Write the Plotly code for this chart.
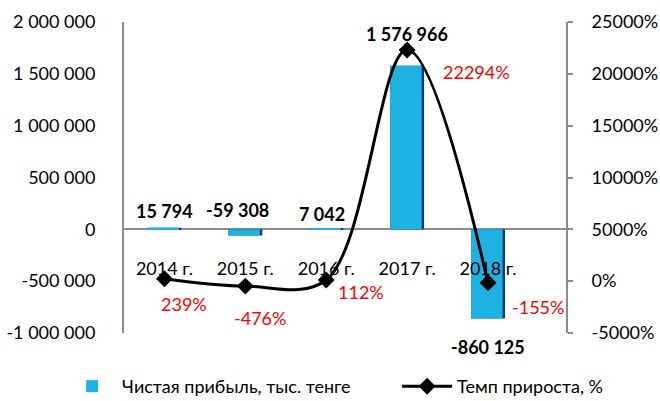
import plotly.graph_objects as go

years = ["2014 г.", "2015 г.", "2016 г.", "2017 г.", "2018 г."]
profit = [15794, -59308, 7042, 1576966, -860125]
growth = [239, -476, 112, 22294, -155]
profit_labels = ["15 794", "-59 308", "7 042", "1 576 966", "-860 125"]
growth_labels = ["239%", "-476%", "112%", "22294%", "-155%"]
y_ticks = [-1000000, -500000, 0, 500000, 1000000, 1500000, 2000000]
y_ticktext = ["-1 000 000", "-500 000", "0", "500 000", "1 000 000", "1 500 000", "2 000 000"]
y2_ticks = [-5000, 0, 5000, 10000, 15000, 20000, 25000]
y2_ticktext = ["-5000%", "0%", "5000%", "10000%", "15000%", "20000%", "25000%"]
series_names = ["Чистая прибыль, тыс. тенге", "Темп прироста, %"]

# label offsets (pixels) - style only
profit_shift = [(0, 17), (-8, 25), (-4, 15), (0, 32), (0, -28)]
growth_shift = [(20, -25), (15, -32), (35, -12), (69, -22), (50, -24)]

FONT = "Lato, Calibri, sans-serif"
PAD = "\u00a0" * 9  # legend spacing between entries

fig = go.Figure()
# dark edge layer
fig.add_trace(go.Bar(x=years, y=profit, width=0.42, marker=dict(color="#0b3f73", line=dict(width=0)),
                     showlegend=False, hoverinfo="skip"))
# main layer
fig.add_trace(go.Bar(x=years, y=profit, width=0.39, offset=-0.21,
                     marker=dict(color="#1eb2e3", line=dict(width=0)),
                     name=series_names[0] + PAD))
fig.add_trace(go.Scatter(x=years, y=growth, yaxis="y2", mode="lines+markers",
                         line=dict(color="black", width=3, shape="spline", smoothing=1),
                         marker=dict(symbol="diamond", size=13, color="black"),
                         name=series_names[1]))

ann = []
for i in range(len(years)):
    ann.append(dict(x=years[i], y=profit[i], xref="x", yref="y", text="<b>" + profit_labels[i] + "</b>",
                    showarrow=False, xshift=profit_shift[i][0], yshift=profit_shift[i][1],
                    font=dict(family=FONT, size=18, color="black")))
    ann.append(dict(x=years[i], y=growth[i], xref="x", yref="y2", text=growth_labels[i],
                    showarrow=False, xshift=growth_shift[i][0], yshift=growth_shift[i][1],
                    font=dict(family=FONT, size=18, color="#ff0000")))

fig.update_layout(
    width=660, height=401,
    margin=dict(l=124, r=94, t=22, b=68, autoexpand=False),
    paper_bgcolor="white", plot_bgcolor="white",
    font=dict(family=FONT, size=18, color="black"),
    barmode="overlay",
    xaxis=dict(type="category", anchor="free", position=1/3, showline=False, showgrid=False,
               zeroline=False, ticks="", ticklabelstandoff=27, tickfont=dict(size=18)),
    yaxis=dict(range=[-1000000, 2000000], tickvals=y_ticks, ticktext=y_ticktext, showgrid=False,
               showline=True, linecolor="#8c8c8c", linewidth=2, zeroline=True, zerolinecolor="#8c8c8c",
               zerolinewidth=2, ticks="", ticklabelstandoff=23),
    yaxis2=dict(range=[-5000, 25000], tickvals=y2_ticks, ticktext=y2_ticktext, overlaying="y", side="right",
                showgrid=False, zeroline=False, showline=True, linecolor="#8c8c8c", linewidth=2,
                ticks="outside", ticklen=5, tickcolor="#8c8c8c", tickwidth=2, ticklabelstandoff=15),
    legend=dict(orientation="h", x=-0.14, xanchor="left", xref="paper", y=-0.172, yanchor="middle",
                yref="paper", font=dict(size=18), bgcolor="rgba(0,0,0,0)", itemwidth=50),
    annotations=ann,
)

fig.write_html("out.html", config={"displayModeBar": False},
               post_script="document.body.style.margin='0px';")
